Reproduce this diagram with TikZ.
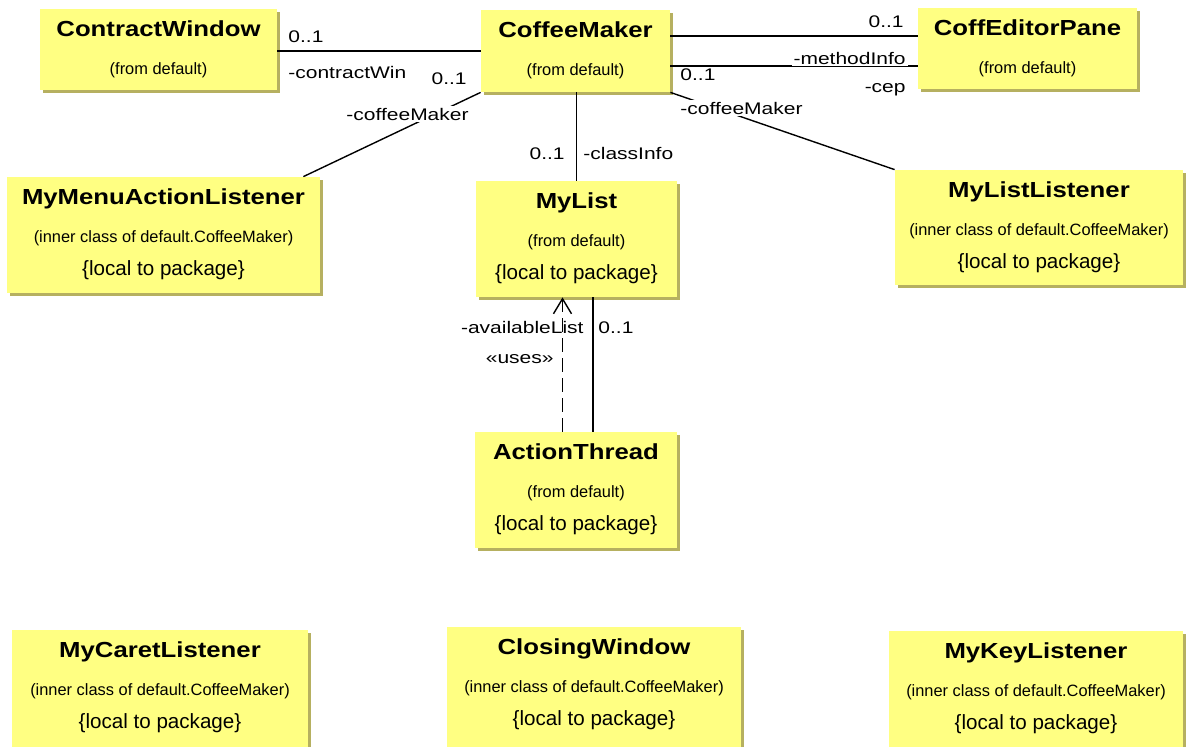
\documentclass[tikz,border=0pt]{standalone}
\usepackage{fontspec}
\setmainfont{Liberation Sans}
\newfontfamily\titlefont[FakeStretch=1.18]{Liberation Sans Bold}
\newfontfamily\rolefont[FakeStretch=1.25]{Liberation Sans}
\usetikzlibrary{fit,shadows,arrows.meta}
\definecolor{classfill}{RGB}{255,255,130}
\definecolor{classshade}{RGB}{182,176,96}

\tikzset{
  classbox/.style={fill=classfill, draw=none, inner sep=0pt,
    drop shadow={shadow xshift=1.5pt, shadow yshift=-1.5pt, fill=classshade, opacity=1}},
  titletext/.style={font=\titlefont\fontsize{10.9}{12}\selectfont, inner sep=0pt, anchor=base},
  subtext/.style={font=\fontsize{8.2}{10}\selectfont, inner sep=0pt, anchor=base},
  localtext/.style={font=\fontsize{10.3}{12}\selectfont, inner sep=0pt, anchor=base},
  role/.style={font=\rolefont\fontsize{8.4}{10}\selectfont, inner sep=1pt},
  rolebg/.style={role, fill=white},
  assoc/.style={draw=black, line width=0.7pt},
}

% a class box: name, corners (x1,y1) (x2,y2), title, origin line, optional package note
\newcommand\umlclass[8]{%
  \node[classbox, fit={(#2,#3)(#4,#5)}] (#1) {};
  \node[titletext] (#1-t) at ({(#2+#4)/2},{#3+27.5}) {#6};
  \node[subtext] (#1-s) at ({(#2+#4)/2},{#3+65.5}) {#7};
  \if\relax\detokenize{#8}\relax\else
    \node[localtext] (#1-l) at ({(#2+#4)/2},{#3+98}) {#8};
  \fi
}

\begin{document}
\begin{tikzpicture}[x=0.5pt,y=-0.5pt]
\useasboundingbox[fill=white] (0,0) rectangle (1191,746);

\umlclass{cw}{40}{9}{277}{90}{ContractWindow}{(from default)}{}
\umlclass{cm}{481}{10}{670}{92}{CoffeeMaker}{(from default)}{}
\umlclass{cep}{918}{8}{1137}{89}{CoffEditorPane}{(from default)}{}
\umlclass{mmal}{7}{177}{320}{293}{MyMenuActionListener}{(inner class of default.CoffeeMaker)}{\{local to package\}}
\umlclass{ml}{476}{181}{677}{297}{MyList}{(from default)}{\{local to package\}}
\umlclass{mll}{895}{170}{1183}{285}{MyListListener}{(inner class of default.CoffeeMaker)}{\{local to package\}}
\umlclass{at}{475}{432}{677}{548}{ActionThread}{(from default)}{\{local to package\}}
\umlclass{mcl}{12}{630}{308}{770}{MyCaretListener}{(inner class of default.CoffeeMaker)}{\{local to package\}}
\umlclass{clw}{447}{627}{741}{770}{ClosingWindow}{(inner class of default.CoffeeMaker)}{\{local to package\}}
\umlclass{mkl}{889}{631}{1183}{770}{MyKeyListener}{(inner class of default.CoffeeMaker)}{\{local to package\}}

% associations
\draw[assoc] (cw.east |- cm.west) -- (cm.west);
\draw[assoc] ([yshift=7.5pt]cm.east) -- ([yshift=7.5pt]cm.east -| cep.west);
\draw[assoc] ([yshift=-7.5pt]cm.east) -- ([yshift=-7.5pt]cm.east -| cep.west);
\draw[assoc] (cm.south west) -- ([xshift=-8.5pt]mmal.north east);
\draw[assoc] (cm.south east) -- (mll.north west);
\draw[assoc] (ml.north) -- (ml.north |- cm.south);
\draw[assoc] ([xshift=8.25pt]ml.south) -- ([xshift=8.25pt]ml.south |- at.north);
% dependency
\draw[assoc, dash pattern=on 7pt off 3pt, -{Straight Barb[length=7.5pt,width=9pt]}]
  ([xshift=-6.75pt]at.north) -- ([xshift=-6.75pt]at.north |- ml.south);

% role names and multiplicities
\node[role, anchor=base west] (r1) at (286,42) {0..1};
\node[role, anchor=base west] (r2) at (286,78) {-contractWin};
\node[rolebg, anchor=base east] (r3) at (469,84) {0..1};
\node[rolebg, anchor=base east] (r4) at (471,120) {-coffeeMaker};
\node[role, anchor=base east] (r5) at (906,27) {0..1};
\node[rolebg, anchor=base east] (r6) at (908,64) {-methodInfo};
\node[role, anchor=base east] (r7) at (908,92) {-cep};
\node[role, anchor=base west] (r8) at (678,80) {0..1};
\node[rolebg, anchor=base west] (r9) at (678,114) {-coffeeMaker};
\node[role, anchor=base east] (r10) at (567,159) {0..1};
\node[role, anchor=base west] (r11) at (581,159) {-classInfo};
\node[role, anchor=base east] (r12) at (586,333) {-availableList};
\node[role, anchor=base west] (r13) at (596,333) {0..1};
\node[role, anchor=base east] (r14) at (556,363) {«uses»};
\end{tikzpicture}
\end{document}
